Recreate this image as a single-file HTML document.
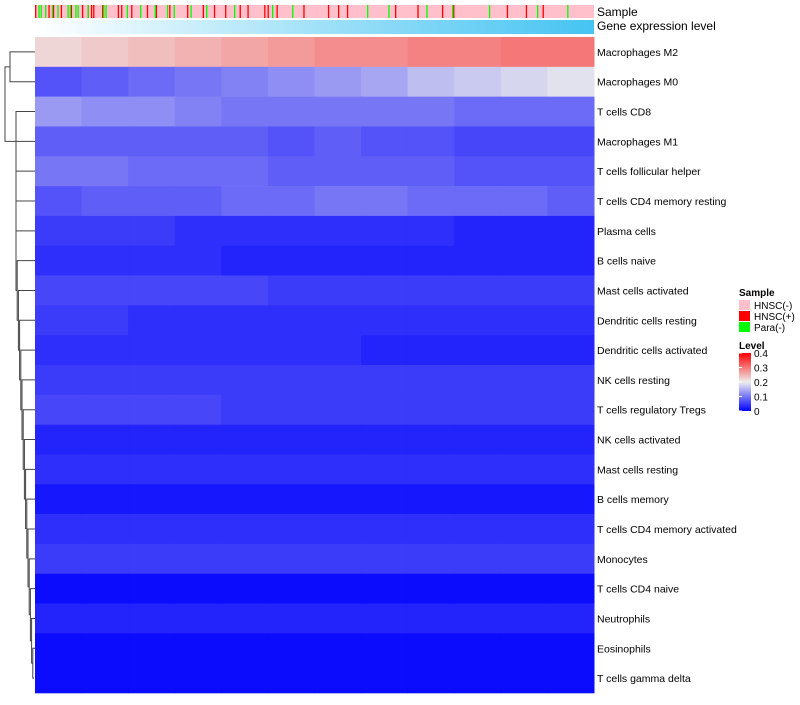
<!DOCTYPE html>
<html><head><meta charset="utf-8"><style>
body{margin:0;background:#fff;font-family:"Liberation Sans",sans-serif}
svg text{font-family:"Liberation Sans",sans-serif}
</style></head><body>
<svg id="c" width="800" height="700">
<defs>
<linearGradient id="ge" x1="0" x2="1"><stop offset="0" stop-color="#ffffff"/><stop offset="1" stop-color="#45c4f2"/></linearGradient>
<linearGradient id="lv" x1="0" x2="0" y1="1" y2="0"><stop offset="0" stop-color="#0000ff"/><stop offset="0.5" stop-color="#eeeeee"/><stop offset="1" stop-color="#ff0000"/></linearGradient>
</defs>
</svg>
<script>
const rowLabels=["Macrophages M2","Macrophages M0","T cells CD8","Macrophages M1","T cells follicular helper","T cells CD4 memory resting","Plasma cells","B cells naive","Mast cells activated","Dendritic cells resting","Dendritic cells activated","NK cells resting","T cells regulatory  Tregs","NK cells activated","Mast cells resting","B cells memory","T cells CD4 memory activated","Monocytes","T cells CD4 naive","Neutrophils","Eosinophils","T cells gamma delta"];
const rowValues=[
[0.22,0.23,0.24,0.25,0.26,0.27,0.28,0.28,0.29,0.29,0.3,0.3],
[0.07,0.08,0.09,0.1,0.11,0.12,0.13,0.14,0.16,0.17,0.18,0.19],
[0.13,0.12,0.12,0.11,0.1,0.1,0.1,0.1,0.1,0.09,0.09,0.09],
[0.08,0.08,0.08,0.08,0.08,0.07,0.08,0.07,0.07,0.06,0.06,0.06],
[0.1,0.1,0.09,0.09,0.09,0.08,0.08,0.08,0.08,0.07,0.07,0.07],
[0.07,0.08,0.08,0.08,0.09,0.09,0.1,0.1,0.09,0.09,0.09,0.08],
[0.05,0.05,0.05,0.04,0.04,0.04,0.04,0.04,0.04,0.03,0.03,0.03],
[0.04,0.04,0.04,0.04,0.03,0.03,0.03,0.03,0.03,0.03,0.03,0.03],
[0.06,0.06,0.06,0.06,0.06,0.05,0.05,0.05,0.05,0.05,0.05,0.05],
[0.05,0.05,0.04,0.04,0.04,0.04,0.04,0.04,0.04,0.04,0.04,0.04],
[0.04,0.04,0.04,0.04,0.04,0.04,0.04,0.03,0.03,0.03,0.03,0.03],
[0.05,0.05,0.05,0.05,0.05,0.05,0.05,0.05,0.05,0.05,0.05,0.05],
[0.06,0.06,0.06,0.06,0.05,0.05,0.05,0.05,0.05,0.05,0.05,0.05],
[0.03,0.03,0.03,0.03,0.03,0.03,0.03,0.03,0.03,0.03,0.03,0.03],
[0.04,0.04,0.04,0.04,0.04,0.04,0.04,0.04,0.04,0.04,0.04,0.04],
[0.02,0.02,0.02,0.02,0.02,0.02,0.02,0.02,0.02,0.02,0.02,0.02],
[0.04,0.04,0.04,0.04,0.04,0.04,0.04,0.04,0.04,0.04,0.04,0.04],
[0.05,0.05,0.05,0.05,0.05,0.05,0.05,0.05,0.05,0.05,0.05,0.05],
[0.01,0.01,0.01,0.01,0.01,0.01,0.01,0.01,0.01,0.01,0.01,0.01],
[0.03,0.03,0.03,0.03,0.03,0.03,0.03,0.03,0.03,0.03,0.03,0.03],
[0.01,0.01,0.01,0.01,0.01,0.01,0.01,0.01,0.01,0.01,0.01,0.01],
[0.01,0.01,0.01,0.01,0.01,0.01,0.01,0.01,0.01,0.01,0.01,0.01]];
const nSamples=500;
const redSamples=[0,12,16,23,32,42,47,50,52,60,74,77,86,100,108,120,136,150,160,170,183,190,205,208,216,240,262,271,279,322,342,364,374,422,439,454];
const greenSamples=[3,5,9,15,20,29,31,36,38,47,61,63,82,94,107,118,124,139,153,178,212,230,297,316,350,373,406,449,476];
const legendTicks=[0,0.1,0.2,0.3,0.4];

const NS="http://www.w3.org/2000/svg";
const svg=document.getElementById('c');
const X0=35,X1=594,Y0=37,Y1=693;
const rh=(Y1-Y0)/rowLabels.length;
const xs=i=>X0+(X1-X0)*i/nSamples;
function col(v){
  const t=Math.max(0,Math.min(1,v/0.4));
  let r,g,b;
  if(t<0.5){const u=t/0.5;r=238*u;g=238*u;b=255-17*u;}
  else{const u=(t-0.5)/0.5;r=238+17*u;g=238*(1-u);b=238*(1-u);}
  return `rgb(${r|0},${g|0},${b|0})`;
}
function mk(tag,attrs,parent){const e=document.createElementNS(NS,tag);for(const k in attrs)e.setAttribute(k,attrs[k]);(parent||svg).appendChild(e);return e;}

let sb=mk('rect',{x:X0,y:5,width:X1-X0,height:13,fill:'#ffc0cb'});


redSamples.forEach(i=>{const e=mk('rect',{x:xs(i),y:5,width:1.3,height:13,fill:'#ff0000'});

});
greenSamples.filter(i=>i<nSamples).forEach(i=>{const e=mk('rect',{x:xs(i),y:5,width:1.3,height:13,fill:'#00ff00'});

});
let gb=mk('rect',{x:X0,y:20,width:X1-X0,height:14,fill:'url(#ge)'});


[['Sample',16],['Gene expression level',30]].forEach(([t,y])=>{const e=mk('text',{x:597,y:y,'font-size':12});e.textContent=t;

});

rowValues.forEach((vals,r)=>{
  const n=vals.length;
  vals.forEach((v,j)=>{
    const e=mk('rect',{x:X0+(X1-X0)*j/n,y:Y0+r*rh,width:(X1-X0)/n+0.5,height:rh+0.3,fill:col(v)});
    
    
  });
  const t=mk('text',{x:597,y:Y0+r*rh+rh/2+4,'font-size':10.5});
  t.textContent=rowLabels[r];
  
  
});

const cy=r=>Y0+r*rh+rh/2;
const g=mk('g',{stroke:'#444','stroke-width':1,fill:'none'});


function br(x,y1,y2,xa,xb){mk('path',{d:`M${xa},${y1}H${x}V${y2}H${xb}`},g);}
br(10,cy(0),cy(1),35,35);
let nodeY=cy(21),nodeX=34;
for(let r=20;r>=2;r--){const nx=Math.max(16,nodeX-1.2-(r<6?3:0));br(nx,cy(r),nodeY,35,nodeX);nodeY=(cy(r)+nodeY)/2;nodeX=nx;}
br(5,(cy(0)+cy(1))/2,nodeY,10,nodeX);

const lg=mk('g',{});


let tt=mk('text',{x:739,y:296,'font-size':10,'font-weight':'bold'},lg);tt.textContent='Sample';
[['HNSC(-)','#ffc0cb'],['HNSC(+)','#ff0000'],['Para(-)','#00ff00']].forEach(([l,c],i)=>{
  const r=mk('rect',{x:739,y:300+i*11,width:11,height:10,fill:c},lg);
  
  
  const t=mk('text',{x:754,y:309+i*11,'font-size':10},lg);t.textContent=l;
});
tt=mk('text',{x:739,y:349,'font-size':10,'font-weight':'bold'},lg);tt.textContent='Level';
const lgTop=353,lgH=58;
mk('rect',{x:739,y:lgTop,width:12,height:lgH,fill:'url(#lv)'},lg);
legendTicks.forEach(v=>{const y=lgTop+lgH-lgH*v/0.4;
  mk('line',{x1:739,x2:742,y1:y,y2:y,stroke:'#fff'},lg);
  const t=mk('text',{x:754,y:y+4,'font-size':10},lg);t.textContent=v;});
</script>
</body></html>
